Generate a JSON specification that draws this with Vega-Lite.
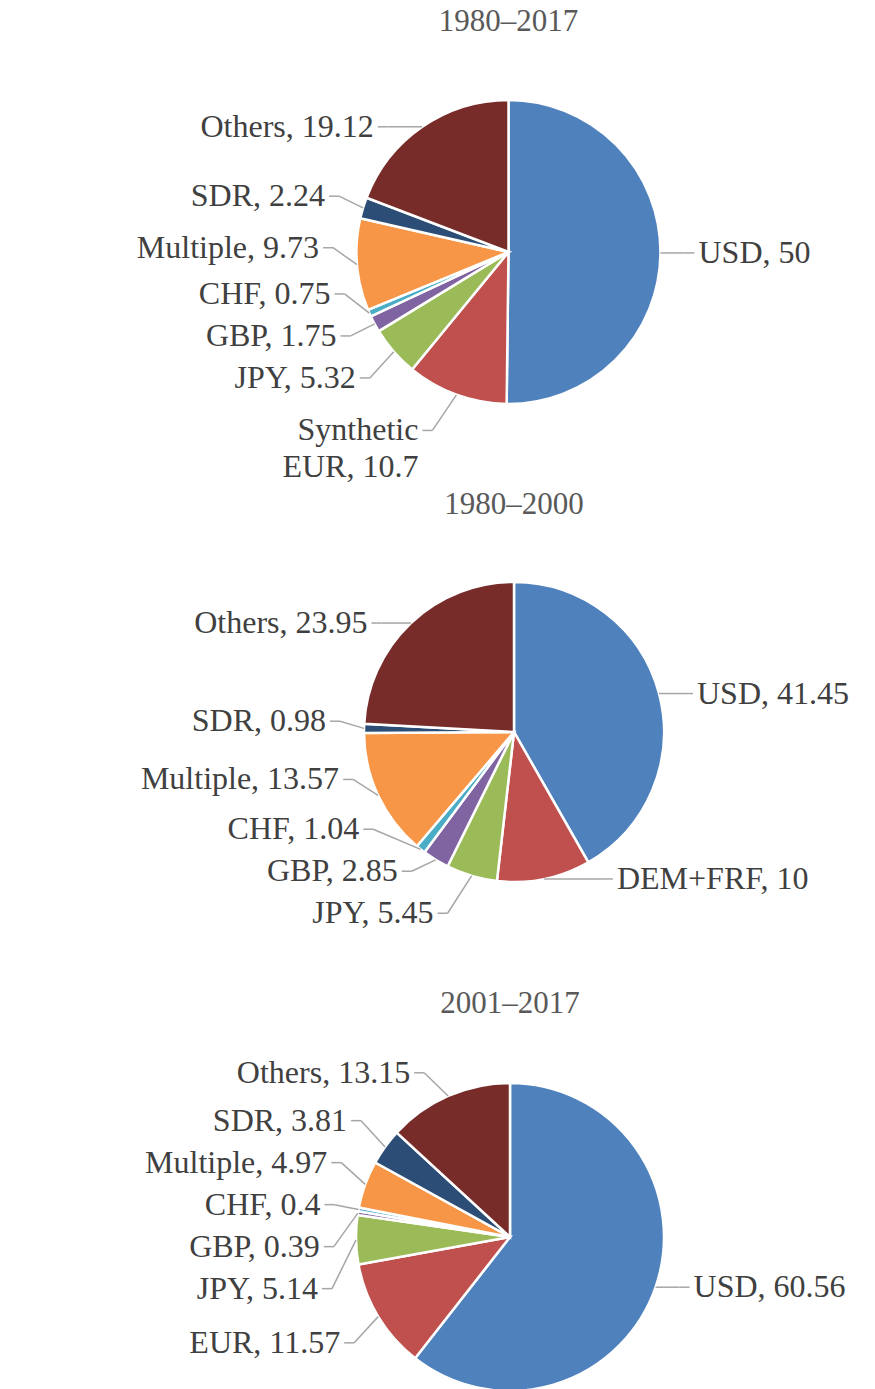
{
  "$schema": "https://vega.github.io/schema/vega-lite/v6.json",
  "padding": {"top": 6, "left": 0, "right": 0, "bottom": 0},
  "spacing": 0,
  "background": "white",
  "config": {
    "view": {"stroke": null},
    "title": {"font": "Liberation Serif", "fontSize": 31, "fontWeight": "normal", "color": "#595959", "anchor": "middle", "frame": "group", "offset": 0}
  },
  "datasets": {
    "shares": [
      {"period": "1980–2017", "currency": "USD", "value": 50},
      {"period": "1980–2017", "currency": "Synthetic EUR", "value": 10.7},
      {"period": "1980–2017", "currency": "JPY", "value": 5.32},
      {"period": "1980–2017", "currency": "GBP", "value": 1.75},
      {"period": "1980–2017", "currency": "CHF", "value": 0.75},
      {"period": "1980–2017", "currency": "Multiple", "value": 9.73},
      {"period": "1980–2017", "currency": "SDR", "value": 2.24},
      {"period": "1980–2017", "currency": "Others", "value": 19.12},
      {"period": "1980–2000", "currency": "USD", "value": 41.45},
      {"period": "1980–2000", "currency": "DEM+FRF", "value": 10},
      {"period": "1980–2000", "currency": "JPY", "value": 5.45},
      {"period": "1980–2000", "currency": "GBP", "value": 2.85},
      {"period": "1980–2000", "currency": "CHF", "value": 1.04},
      {"period": "1980–2000", "currency": "Multiple", "value": 13.57},
      {"period": "1980–2000", "currency": "SDR", "value": 0.98},
      {"period": "1980–2000", "currency": "Others", "value": 23.95},
      {"period": "2001–2017", "currency": "USD", "value": 60.56},
      {"period": "2001–2017", "currency": "EUR", "value": 11.57},
      {"period": "2001–2017", "currency": "JPY", "value": 5.14},
      {"period": "2001–2017", "currency": "GBP", "value": 0.39},
      {"period": "2001–2017", "currency": "CHF", "value": 0.4},
      {"period": "2001–2017", "currency": "Multiple", "value": 4.97},
      {"period": "2001–2017", "currency": "SDR", "value": 3.81},
      {"period": "2001–2017", "currency": "Others", "value": 13.15}
    ]
  },
  "data": {"name": "shares"},
  "vconcat": [
    {
      "width": 875, "height": 447,
      "title": {"text": "1980–2017", "dx": 71},
      "transform": [
        {"filter": "datum.period === '1980–2017'"},
        {"window": [{"op": "row_number", "as": "idx"}]},
        {"joinaggregate": [{"op": "sum", "field": "value", "as": "total"}]},
        {"window": [{"op": "sum", "field": "value", "as": "cum"}], "sort": [{"field": "idx"}], "frame": [null, 0]},
        {"calculate": "(datum.cum - datum.value) / datum.total", "as": "f0"},
        {"calculate": "datum.cum / datum.total", "as": "f1"},
        {"calculate": "0", "as": "cx"},
        {"calculate": "0", "as": "cy"},
        {"calculate": "(datum.f0 + datum.f1) * PI", "as": "mid"},
        {"calculate": "152 * sin(datum.mid)", "as": "ax"},
        {"calculate": "-152 * cos(datum.mid)", "as": "ay"},
        {"calculate": "sin(datum.mid) < 0 ? -1 : 1", "as": "side"},
        {"calculate": "length(split(datum.currency, ' '))", "as": "nl"},
        {"calculate": "42 + 21 * (datum.nl - 1)", "as": "h"},
        {"window": [{"op": "sum", "field": "h", "as": "cumh"}], "groupby": ["side"], "sort": [{"field": "ay"}], "frame": [null, 0]},
        {"calculate": "datum.cumh - datum.h / 2", "as": "S"},
        {"calculate": "datum.ay - datum.S", "as": "t"},
        {"window": [{"op": "max", "field": "t", "as": "cm"}], "groupby": ["side"], "sort": [{"field": "ay"}], "frame": [null, 0]},
        {"calculate": "datum.S + datum.cm", "as": "lyd"},
        {"window": [{"op": "sum", "field": "h", "as": "cumhu"}], "groupby": ["side"], "sort": [{"field": "ay", "order": "descending"}], "frame": [null, 0]},
        {"calculate": "datum.cumhu - datum.h / 2", "as": "Su"},
        {"calculate": "datum.ay + datum.Su", "as": "tu"},
        {"window": [{"op": "min", "field": "tu", "as": "cmu"}], "groupby": ["side"], "sort": [{"field": "ay", "order": "descending"}], "frame": [null, 0]},
        {"calculate": "datum.cmu - datum.Su", "as": "lyu"},
        {"calculate": "0.65 * datum.lyd + 0.35 * datum.lyu", "as": "ly"},
        {"calculate": "max(0, datum.ly >= 0 ? datum.ly - 17 : -datum.ly - 17 - 37 * (datum.nl - 1))", "as": "q"},
        {"calculate": "datum.side * max(sqrt(max(0, 152 * 152 - datum.q * datum.q)) + 14, abs(datum.ax) + 24)", "as": "lx"},
        {"calculate": "datum.lx + datum.side * 10", "as": "ex"},
        {"calculate": "datum.lx + datum.side * 14", "as": "tx"},
        {"calculate": "replace(datum.currency, ' ', '\\n') + ', ' + datum.value", "as": "label"}
      ],
      "layer": [
        {
          "mark": {"type": "arc", "outerRadius": 152, "stroke": "#ffffff", "strokeWidth": 2.5},
          "encoding": {
            "x": {"field": "cx", "type": "quantitative", "scale": {"domain": [-508.5, 366.5], "nice": false, "zero": false}, "axis": null},
            "y": {"field": "cy", "type": "quantitative", "scale": {"domain": [-210, 237], "nice": false, "zero": false, "reverse": true}, "axis": null},
            "theta": {"field": "f0", "type": "quantitative", "stack": null, "scale": {"domain": [0, 1], "range": [0, 6.283185307179586]}},
            "theta2": {"field": "f1"},
            "color": {"field": "currency", "type": "nominal", "legend": null,
              "scale": {"domain": ["USD", "Synthetic EUR", "DEM+FRF", "EUR", "JPY", "GBP", "CHF", "Multiple", "SDR", "Others"],
                        "range": ["#4F81BD", "#C0504D", "#C0504D", "#C0504D", "#9BBB59", "#8064A2", "#4BACC6", "#F79646", "#2C4D75", "#772C2A"]}}
          }
        },
        {
          "mark": {"type": "rule", "color": "#A6A6A6", "strokeWidth": 1.5},
          "encoding": {
            "x": {"field": "ax", "type": "quantitative", "scale": {"domain": [-508.5, 366.5], "nice": false, "zero": false}, "axis": null},
            "y": {"field": "ay", "type": "quantitative", "scale": {"domain": [-210, 237], "nice": false, "zero": false, "reverse": true}, "axis": null},
            "x2": {"field": "lx"},
            "y2": {"field": "ly"}
          }
        },
        {
          "mark": {"type": "rule", "color": "#A6A6A6", "strokeWidth": 1.5},
          "encoding": {
            "x": {"field": "lx", "type": "quantitative", "scale": {"domain": [-508.5, 366.5], "nice": false, "zero": false}, "axis": null},
            "y": {"field": "ly", "type": "quantitative", "scale": {"domain": [-210, 237], "nice": false, "zero": false, "reverse": true}, "axis": null},
            "x2": {"field": "ex"},
            "y2": {"field": "ly"}
          }
        },
        {
          "transform": [{"filter": "datum.side < 0"}],
          "mark": {"type": "text", "align": "right", "baseline": "middle", "font": "Liberation Serif", "fontSize": 32, "color": "#404040", "lineBreak": "\n", "lineHeight": 37},
          "encoding": {
            "x": {"field": "tx", "type": "quantitative", "scale": {"domain": [-508.5, 366.5], "nice": false, "zero": false}, "axis": null},
            "y": {"field": "ly", "type": "quantitative", "scale": {"domain": [-210, 237], "nice": false, "zero": false, "reverse": true}, "axis": null},
            "text": {"field": "label"}
          }
        },
        {
          "transform": [{"filter": "datum.side > 0"}],
          "mark": {"type": "text", "align": "left", "baseline": "middle", "font": "Liberation Serif", "fontSize": 32, "color": "#404040", "lineBreak": "\n", "lineHeight": 37},
          "encoding": {
            "x": {"field": "tx", "type": "quantitative", "scale": {"domain": [-508.5, 366.5], "nice": false, "zero": false}, "axis": null},
            "y": {"field": "ly", "type": "quantitative", "scale": {"domain": [-210, 237], "nice": false, "zero": false, "reverse": true}, "axis": null},
            "text": {"field": "label"}
          }
        }
      ]
    },
    {
      "width": 875, "height": 463,
      "title": {"text": "1980–2000", "dx": 76.5},
      "transform": [
        {"filter": "datum.period === '1980–2000'"},
        {"window": [{"op": "row_number", "as": "idx"}]},
        {"joinaggregate": [{"op": "sum", "field": "value", "as": "total"}]},
        {"window": [{"op": "sum", "field": "value", "as": "cum"}], "sort": [{"field": "idx"}], "frame": [null, 0]},
        {"calculate": "(datum.cum - datum.value) / datum.total", "as": "f0"},
        {"calculate": "datum.cum / datum.total", "as": "f1"},
        {"calculate": "0", "as": "cx"},
        {"calculate": "0", "as": "cy"},
        {"calculate": "(datum.f0 + datum.f1) * PI", "as": "mid"},
        {"calculate": "150 * sin(datum.mid)", "as": "ax"},
        {"calculate": "-150 * cos(datum.mid)", "as": "ay"},
        {"calculate": "sin(datum.mid) < 0 ? -1 : 1", "as": "side"},
        {"calculate": "length(split(datum.currency, ' '))", "as": "nl"},
        {"calculate": "42 + 21 * (datum.nl - 1)", "as": "h"},
        {"window": [{"op": "sum", "field": "h", "as": "cumh"}], "groupby": ["side"], "sort": [{"field": "ay"}], "frame": [null, 0]},
        {"calculate": "datum.cumh - datum.h / 2", "as": "S"},
        {"calculate": "datum.ay - datum.S", "as": "t"},
        {"window": [{"op": "max", "field": "t", "as": "cm"}], "groupby": ["side"], "sort": [{"field": "ay"}], "frame": [null, 0]},
        {"calculate": "datum.S + datum.cm", "as": "lyd"},
        {"window": [{"op": "sum", "field": "h", "as": "cumhu"}], "groupby": ["side"], "sort": [{"field": "ay", "order": "descending"}], "frame": [null, 0]},
        {"calculate": "datum.cumhu - datum.h / 2", "as": "Su"},
        {"calculate": "datum.ay + datum.Su", "as": "tu"},
        {"window": [{"op": "min", "field": "tu", "as": "cmu"}], "groupby": ["side"], "sort": [{"field": "ay", "order": "descending"}], "frame": [null, 0]},
        {"calculate": "datum.cmu - datum.Su", "as": "lyu"},
        {"calculate": "0.65 * datum.lyd + 0.35 * datum.lyu", "as": "ly"},
        {"calculate": "max(0, datum.ly >= 0 ? datum.ly - 17 : -datum.ly - 17 - 37 * (datum.nl - 1))", "as": "q"},
        {"calculate": "datum.side * max(sqrt(max(0, 150 * 150 - datum.q * datum.q)) + 14, abs(datum.ax) + 24)", "as": "lx"},
        {"calculate": "datum.lx + datum.side * 10", "as": "ex"},
        {"calculate": "datum.lx + datum.side * 14", "as": "tx"},
        {"calculate": "replace(datum.currency, ' ', '\\n') + ', ' + datum.value", "as": "label"}
      ],
      "layer": [
        {
          "mark": {"type": "arc", "outerRadius": 150, "stroke": "#ffffff", "strokeWidth": 2.5},
          "encoding": {
            "x": {"field": "cx", "type": "quantitative", "scale": {"domain": [-514, 361], "nice": false, "zero": false}, "axis": null},
            "y": {"field": "cy", "type": "quantitative", "scale": {"domain": [-207, 256], "nice": false, "zero": false, "reverse": true}, "axis": null},
            "theta": {"field": "f0", "type": "quantitative", "stack": null, "scale": {"domain": [0, 1], "range": [0, 6.283185307179586]}},
            "theta2": {"field": "f1"},
            "color": {"field": "currency", "type": "nominal", "legend": null,
              "scale": {"domain": ["USD", "Synthetic EUR", "DEM+FRF", "EUR", "JPY", "GBP", "CHF", "Multiple", "SDR", "Others"],
                        "range": ["#4F81BD", "#C0504D", "#C0504D", "#C0504D", "#9BBB59", "#8064A2", "#4BACC6", "#F79646", "#2C4D75", "#772C2A"]}}
          }
        },
        {
          "mark": {"type": "rule", "color": "#A6A6A6", "strokeWidth": 1.5},
          "encoding": {
            "x": {"field": "ax", "type": "quantitative", "scale": {"domain": [-514, 361], "nice": false, "zero": false}, "axis": null},
            "y": {"field": "ay", "type": "quantitative", "scale": {"domain": [-207, 256], "nice": false, "zero": false, "reverse": true}, "axis": null},
            "x2": {"field": "lx"},
            "y2": {"field": "ly"}
          }
        },
        {
          "mark": {"type": "rule", "color": "#A6A6A6", "strokeWidth": 1.5},
          "encoding": {
            "x": {"field": "lx", "type": "quantitative", "scale": {"domain": [-514, 361], "nice": false, "zero": false}, "axis": null},
            "y": {"field": "ly", "type": "quantitative", "scale": {"domain": [-207, 256], "nice": false, "zero": false, "reverse": true}, "axis": null},
            "x2": {"field": "ex"},
            "y2": {"field": "ly"}
          }
        },
        {
          "transform": [{"filter": "datum.side < 0"}],
          "mark": {"type": "text", "align": "right", "baseline": "middle", "font": "Liberation Serif", "fontSize": 32, "color": "#404040", "lineBreak": "\n", "lineHeight": 37},
          "encoding": {
            "x": {"field": "tx", "type": "quantitative", "scale": {"domain": [-514, 361], "nice": false, "zero": false}, "axis": null},
            "y": {"field": "ly", "type": "quantitative", "scale": {"domain": [-207, 256], "nice": false, "zero": false, "reverse": true}, "axis": null},
            "text": {"field": "label"}
          }
        },
        {
          "transform": [{"filter": "datum.side > 0"}],
          "mark": {"type": "text", "align": "left", "baseline": "middle", "font": "Liberation Serif", "fontSize": 32, "color": "#404040", "lineBreak": "\n", "lineHeight": 37},
          "encoding": {
            "x": {"field": "tx", "type": "quantitative", "scale": {"domain": [-514, 361], "nice": false, "zero": false}, "axis": null},
            "y": {"field": "ly", "type": "quantitative", "scale": {"domain": [-207, 256], "nice": false, "zero": false, "reverse": true}, "axis": null},
            "text": {"field": "label"}
          }
        }
      ]
    },
    {
      "width": 875, "height": 365,
      "title": {"text": "2001–2017", "dx": 72.5},
      "transform": [
        {"filter": "datum.period === '2001–2017'"},
        {"window": [{"op": "row_number", "as": "idx"}]},
        {"joinaggregate": [{"op": "sum", "field": "value", "as": "total"}]},
        {"window": [{"op": "sum", "field": "value", "as": "cum"}], "sort": [{"field": "idx"}], "frame": [null, 0]},
        {"calculate": "(datum.cum - datum.value) / datum.total", "as": "f0"},
        {"calculate": "datum.cum / datum.total", "as": "f1"},
        {"calculate": "0", "as": "cx"},
        {"calculate": "0", "as": "cy"},
        {"calculate": "(datum.f0 + datum.f1) * PI", "as": "mid"},
        {"calculate": "154 * sin(datum.mid)", "as": "ax"},
        {"calculate": "-154 * cos(datum.mid)", "as": "ay"},
        {"calculate": "sin(datum.mid) < 0 ? -1 : 1", "as": "side"},
        {"calculate": "length(split(datum.currency, ' '))", "as": "nl"},
        {"calculate": "42 + 21 * (datum.nl - 1)", "as": "h"},
        {"window": [{"op": "sum", "field": "h", "as": "cumh"}], "groupby": ["side"], "sort": [{"field": "ay"}], "frame": [null, 0]},
        {"calculate": "datum.cumh - datum.h / 2", "as": "S"},
        {"calculate": "datum.ay - datum.S", "as": "t"},
        {"window": [{"op": "max", "field": "t", "as": "cm"}], "groupby": ["side"], "sort": [{"field": "ay"}], "frame": [null, 0]},
        {"calculate": "datum.S + datum.cm", "as": "lyd"},
        {"window": [{"op": "sum", "field": "h", "as": "cumhu"}], "groupby": ["side"], "sort": [{"field": "ay", "order": "descending"}], "frame": [null, 0]},
        {"calculate": "datum.cumhu - datum.h / 2", "as": "Su"},
        {"calculate": "datum.ay + datum.Su", "as": "tu"},
        {"window": [{"op": "min", "field": "tu", "as": "cmu"}], "groupby": ["side"], "sort": [{"field": "ay", "order": "descending"}], "frame": [null, 0]},
        {"calculate": "datum.cmu - datum.Su", "as": "lyu"},
        {"calculate": "0.65 * datum.lyd + 0.35 * datum.lyu", "as": "ly"},
        {"calculate": "max(0, datum.ly >= 0 ? datum.ly - 17 : -datum.ly - 17 - 37 * (datum.nl - 1))", "as": "q"},
        {"calculate": "datum.side * max(sqrt(max(0, 154 * 154 - datum.q * datum.q)) + 14, abs(datum.ax) + 24)", "as": "lx"},
        {"calculate": "datum.lx + datum.side * 10", "as": "ex"},
        {"calculate": "datum.lx + datum.side * 14", "as": "tx"},
        {"calculate": "replace(datum.currency, ' ', '\\n') + ', ' + datum.value", "as": "label"}
      ],
      "layer": [
        {
          "mark": {"type": "arc", "outerRadius": 154, "stroke": "#ffffff", "strokeWidth": 2.5},
          "encoding": {
            "x": {"field": "cx", "type": "quantitative", "scale": {"domain": [-510, 365], "nice": false, "zero": false}, "axis": null},
            "y": {"field": "cy", "type": "quantitative", "scale": {"domain": [-213, 152], "nice": false, "zero": false, "reverse": true}, "axis": null},
            "theta": {"field": "f0", "type": "quantitative", "stack": null, "scale": {"domain": [0, 1], "range": [0, 6.283185307179586]}},
            "theta2": {"field": "f1"},
            "color": {"field": "currency", "type": "nominal", "legend": null,
              "scale": {"domain": ["USD", "Synthetic EUR", "DEM+FRF", "EUR", "JPY", "GBP", "CHF", "Multiple", "SDR", "Others"],
                        "range": ["#4F81BD", "#C0504D", "#C0504D", "#C0504D", "#9BBB59", "#8064A2", "#4BACC6", "#F79646", "#2C4D75", "#772C2A"]}}
          }
        },
        {
          "mark": {"type": "rule", "color": "#A6A6A6", "strokeWidth": 1.5},
          "encoding": {
            "x": {"field": "ax", "type": "quantitative", "scale": {"domain": [-510, 365], "nice": false, "zero": false}, "axis": null},
            "y": {"field": "ay", "type": "quantitative", "scale": {"domain": [-213, 152], "nice": false, "zero": false, "reverse": true}, "axis": null},
            "x2": {"field": "lx"},
            "y2": {"field": "ly"}
          }
        },
        {
          "mark": {"type": "rule", "color": "#A6A6A6", "strokeWidth": 1.5},
          "encoding": {
            "x": {"field": "lx", "type": "quantitative", "scale": {"domain": [-510, 365], "nice": false, "zero": false}, "axis": null},
            "y": {"field": "ly", "type": "quantitative", "scale": {"domain": [-213, 152], "nice": false, "zero": false, "reverse": true}, "axis": null},
            "x2": {"field": "ex"},
            "y2": {"field": "ly"}
          }
        },
        {
          "transform": [{"filter": "datum.side < 0"}],
          "mark": {"type": "text", "align": "right", "baseline": "middle", "font": "Liberation Serif", "fontSize": 32, "color": "#404040", "lineBreak": "\n", "lineHeight": 37},
          "encoding": {
            "x": {"field": "tx", "type": "quantitative", "scale": {"domain": [-510, 365], "nice": false, "zero": false}, "axis": null},
            "y": {"field": "ly", "type": "quantitative", "scale": {"domain": [-213, 152], "nice": false, "zero": false, "reverse": true}, "axis": null},
            "text": {"field": "label"}
          }
        },
        {
          "transform": [{"filter": "datum.side > 0"}],
          "mark": {"type": "text", "align": "left", "baseline": "middle", "font": "Liberation Serif", "fontSize": 32, "color": "#404040", "lineBreak": "\n", "lineHeight": 37},
          "encoding": {
            "x": {"field": "tx", "type": "quantitative", "scale": {"domain": [-510, 365], "nice": false, "zero": false}, "axis": null},
            "y": {"field": "ly", "type": "quantitative", "scale": {"domain": [-213, 152], "nice": false, "zero": false, "reverse": true}, "axis": null},
            "text": {"field": "label"}
          }
        }
      ]
    }
  ]
}
